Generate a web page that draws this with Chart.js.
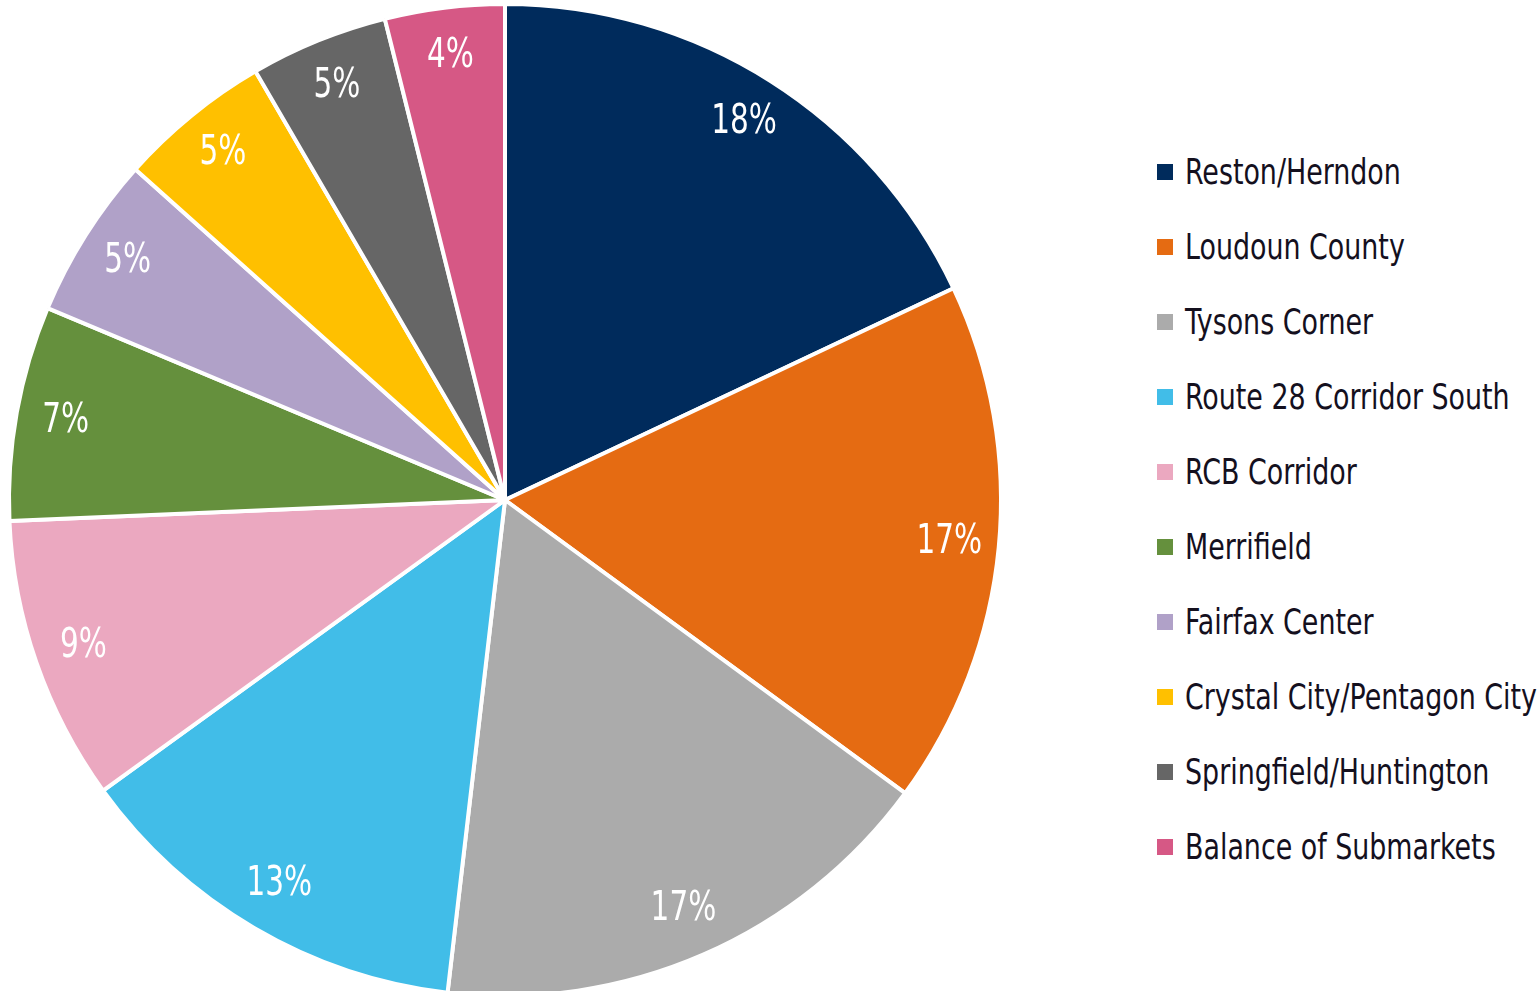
<!DOCTYPE html>
<html>
<head>
<meta charset="utf-8">
<script src="https://cdn.jsdelivr.net/npm/chart.js@4/dist/chart.umd.min.js"></script>
<style>
  html, body { margin: 0; padding: 0; background: #fff; overflow: hidden; }
  body { width: 1538px; height: 991px; position: relative; }
  #wrap { position: absolute; left: 0; top: 0; width: 1010px; height: 998px; }
  #legend {
    position: absolute; left: 1157px; top: 134px; margin: 0; padding: 0; list-style: none;
    font-family: "DejaVu Sans Condensed", "DejaVu Sans", sans-serif;
    font-size: 36px; color: #14101e;
  }
  #legend li { height: 75px; display: flex; align-items: center; white-space: nowrap; }
  #legend span.box { width: 16px; height: 16px; margin-right: 12px; flex: none; }
  #legend span.txt { display: inline-block; transform: scaleX(0.83); transform-origin: left center; }
</style>
</head>
<body>
<div id="wrap"><canvas id="pie"></canvas></div>
<ul id="legend"></ul>
<script>
const submarkets = [
  "Reston/Herndon",
  "Loudoun County",
  "Tysons Corner",
  "Route 28 Corridor South",
  "RCB Corridor",
  "Merrifield",
  "Fairfax Center",
  "Crystal City/Pentagon City",
  "Springfield/Huntington",
  "Balance of Submarkets"
]
const shares = [18.0, 17.1, 16.8, 13.2, 9.3, 7.0, 5.3, 5.0, 4.5, 3.9]
const sliceColors = ["#002b5c", "#e56b12", "#ababab", "#41bde8", "#eba8c0",
  "#65903d", "#b0a1c8", "#ffc000", "#666666", "#d65885"]

const labelFont = '"DejaVu Sans Condensed", "DejaVu Sans", sans-serif'

// draws the % labels inside each slice (squeezed a bit to look condensed)
const sliceLabels = {
  id: "sliceLabels",
  afterDatasetsDraw(chart) {
    const ctx = chart.ctx
    const meta = chart.getDatasetMeta(0)
    ctx.save()
    ctx.fillStyle = "#fff"
    ctx.font = "40px " + labelFont
    ctx.textAlign = "center"
    ctx.textBaseline = "middle"
    meta.data.forEach((arc, i) => {
      const p = arc.getProps(["x", "y", "startAngle", "endAngle", "outerRadius"], true)
      const mid = (p.startAngle + p.endAngle) / 2
      const r = p.outerRadius * 0.9
      ctx.save()
      ctx.translate(p.x + Math.cos(mid) * r, p.y + Math.sin(mid) * r)
      ctx.scale(0.82, 1)
      ctx.fillText(Math.round(shares[i]) + "%", 0, 0)
      ctx.restore()
    })
    ctx.restore()
  }
}

new Chart(document.getElementById("pie"), {
  type: "pie",
  data: {
    labels: submarkets,
    datasets: [{
      data: shares,
      backgroundColor: sliceColors,
      borderColor: "#fff",
      borderWidth: 4
    }]
  },
  options: {
    responsive: true,
    maintainAspectRatio: false,
    animation: false,
    layout: { padding: { top: 2 } },
    plugins: {
      legend: { display: false },
      tooltip: { enabled: false }
    }
  },
  plugins: [sliceLabels]
})

const legend = document.getElementById("legend")
submarkets.forEach((name, i) => {
  const li = document.createElement("li")
  const box = document.createElement("span")
  box.className = "box"
  box.style.background = sliceColors[i]
  const txt = document.createElement("span")
  txt.className = "txt"
  txt.textContent = name
  li.appendChild(box)
  li.appendChild(txt)
  legend.appendChild(li)
})
</script>
</body>
</html>
